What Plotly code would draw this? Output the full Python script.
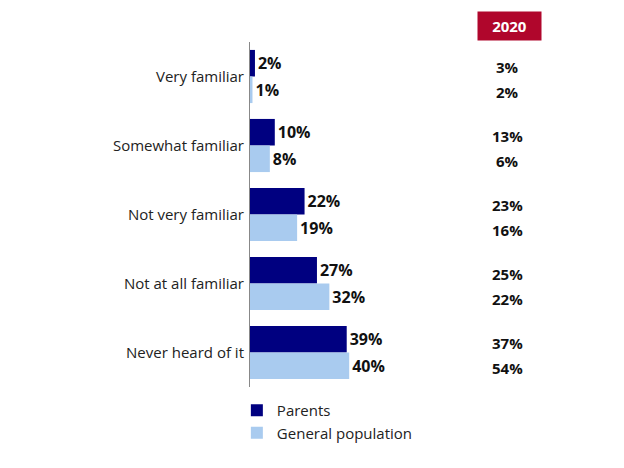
import plotly.graph_objects as go

categories = ["Very familiar", "Somewhat familiar", "Not very familiar", "Not at all familiar", "Never heard of it"]
parents = [2, 10, 22, 27, 39]
general = [1, 8, 19, 32, 40]
parents_2020 = [3, 13, 23, 25, 37]
general_2020 = [2, 6, 16, 22, 54]
year_label = "2020"

FONT = "Open Sans"

fig = go.Figure()
fig.add_trace(go.Bar(
    y=categories, x=parents, orientation="h", name="Parents",
    marker=dict(color="#000080", line=dict(width=0)),
    text=[f"<b>{v}%</b>" for v in parents], textposition="outside",
    textfont=dict(size=16, color="#111111", family=FONT), cliponaxis=False,
))
fig.add_trace(go.Bar(
    y=categories, x=general, orientation="h", name="General population",
    marker=dict(color="#A9CBEF", line=dict(width=0)),
    text=[f"<b>{v}%</b>" for v in general], textposition="outside",
    textfont=dict(size=16, color="#111111", family=FONT), cliponaxis=False,
))

# 2020 comparison column
for i, cat in enumerate(categories):
    fig.add_annotation(x=1.038, xref="paper", y=cat, yref="y", yshift=10,
                       xanchor="center", yanchor="middle",
                       text=f"<b>{parents_2020[i]}%</b>", showarrow=False,
                       font=dict(size=15, color="#111111", family=FONT))
    fig.add_annotation(x=1.038, xref="paper", y=cat, yref="y", yshift=-15,
                       xanchor="center", yanchor="middle",
                       text=f"<b>{general_2020[i]}%</b>", showarrow=False,
                       font=dict(size=15, color="#111111", family=FONT))

fig.add_annotation(x=1.046, xref="paper", y=1.046, yref="paper",
                   xanchor="center", yanchor="middle",
                   text=f"<b>{year_label}</b>", showarrow=False,
                   bgcolor="#B0062C", width=61, height=26, borderpad=1,
                   font=dict(size=15, color="white", family=FONT))

fig.update_layout(
    width=616, height=460,
    paper_bgcolor="white", plot_bgcolor="white",
    margin=dict(l=242, r=126, t=34, b=81, pad=0, autoexpand=False),
    barmode="group", bargap=0.23, bargroupgap=0,
    showlegend=True,
    legend=dict(x=-0.053, y=-0.02, xanchor="left", yanchor="top",
                font=dict(size=15, color="#222222", family=FONT),
                traceorder="normal", itemsizing="constant", tracegroupgap=0,
                bgcolor="rgba(0,0,0,0)"),
    xaxis=dict(range=[0, 100], visible=False, fixedrange=True),
    yaxis=dict(categoryorder="array", categoryarray=categories, autorange="reversed",
               showline=True, linecolor="#888888", linewidth=1, automargin=False,
               showgrid=False, ticks="", ticklabelstandoff=2,
               tickfont=dict(size=15, color="#222222", family=FONT)),
)

fig.write_html("out.html")
